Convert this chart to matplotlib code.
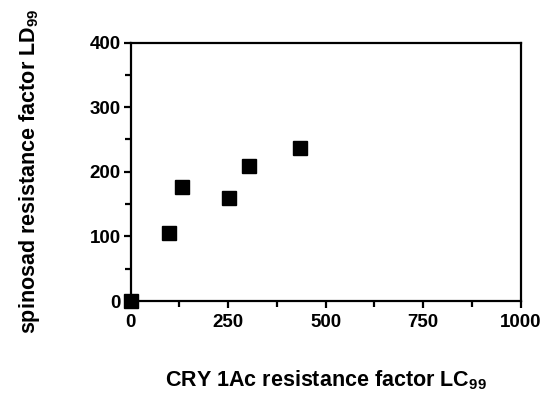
import matplotlib.pyplot as plt

plt.rcParams["font.family"] = ["Liberation Sans", "DejaVu Sans"]
plt.rcParams["font.weight"] = "bold"
plt.rcParams["mathtext.fontset"] = "custom"
plt.rcParams["mathtext.bf"] = "Liberation Sans:bold"
plt.rcParams["mathtext.rm"] = "Liberation Sans:bold"

cry_rf = [0, 99, 131, 253, 303, 434]
spinosad_rf = [0, 105, 176, 160, 209, 237]

x_ticks = [0, 250, 500, 750, 1000]
y_ticks = [0, 100, 200, 300, 400]


def main() -> None:
    fig = plt.figure(figsize=(5.44, 3.94), dpi=100)
    ax = fig.add_axes([0.240, 0.236, 0.717, 0.656])

    ax.plot(cry_rf, spinosad_rf, "ks", markersize=10, linestyle="none", clip_on=False, zorder=3)

    ax.set_xlim(0, 1000)
    ax.set_ylim(0, 400)
    ax.set_xticks(x_ticks)
    ax.set_yticks(y_ticks)
    ax.set_xticks([125, 375, 625, 875], minor=True)
    ax.set_yticks([50, 150, 250, 350], minor=True)

    for s in ax.spines.values():
        s.set_linewidth(1.6)
    ax.tick_params(which="major", length=5, width=1.6, labelsize=13.5, pad=2)
    ax.tick_params(axis="x", which="major", pad=4)
    ax.tick_params(which="minor", length=4, width=1.6)
    for lbl in ax.get_xticklabels() + ax.get_yticklabels():
        lbl.set_fontweight("bold")

    ax.set_xlabel(r"CRY 1Ac resistance factor LC$_{99}$", fontsize=15.5, fontweight="bold", labelpad=27)
    ax.set_ylabel(r"spinosad resistance factor LD$_{99}$", fontsize=15.5, fontweight="bold", labelpad=34)

    fig.savefig("out.png", dpi=100)


if __name__ == "__main__":
    main()
